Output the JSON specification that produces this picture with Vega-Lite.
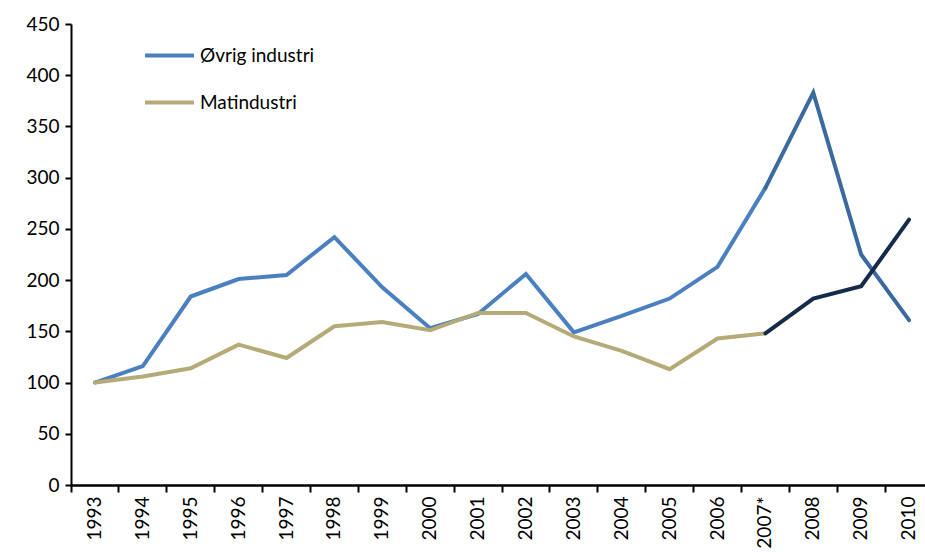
{
  "$schema": "https://vega.github.io/schema/vega-lite/v6.json",
  "autosize": "none",
  "width": 862,
  "height": 461,
  "padding": {"left": 71, "top": 24, "right": 0, "bottom": 75},
  "background": "white",
  "config": {
    "view": {"stroke": null},
    "font": "Lato",
    "axis": {"labelFont": "Lato", "labelColor": "#000000", "domainColor": "#000000", "tickColor": "#000000", "domainWidth": 2, "tickWidth": 2, "grid": false, "title": null}
  },
  "data": {
    "values": [
      {"year": "1993", "series": "Øvrig industri", "part": "pre", "value": 100},
      {"year": "1994", "series": "Øvrig industri", "part": "pre", "value": 116},
      {"year": "1995", "series": "Øvrig industri", "part": "pre", "value": 184},
      {"year": "1996", "series": "Øvrig industri", "part": "pre", "value": 201},
      {"year": "1997", "series": "Øvrig industri", "part": "pre", "value": 205},
      {"year": "1998", "series": "Øvrig industri", "part": "pre", "value": 242},
      {"year": "1999", "series": "Øvrig industri", "part": "pre", "value": 193},
      {"year": "2000", "series": "Øvrig industri", "part": "pre", "value": 153},
      {"year": "2001", "series": "Øvrig industri", "part": "pre", "value": 167},
      {"year": "2002", "series": "Øvrig industri", "part": "pre", "value": 206},
      {"year": "2003", "series": "Øvrig industri", "part": "pre", "value": 149},
      {"year": "2004", "series": "Øvrig industri", "part": "pre", "value": 165},
      {"year": "2005", "series": "Øvrig industri", "part": "pre", "value": 182},
      {"year": "2006", "series": "Øvrig industri", "part": "pre", "value": 213},
      {"year": "2007*", "series": "Øvrig industri", "part": "pre", "value": 290},
      {"year": "2007*", "series": "Øvrig industri", "part": "post", "value": 290},
      {"year": "2008", "series": "Øvrig industri", "part": "post", "value": 383},
      {"year": "2009", "series": "Øvrig industri", "part": "post", "value": 225},
      {"year": "2010", "series": "Øvrig industri", "part": "post", "value": 161},
      {"year": "1993", "series": "Matindustri", "part": "pre", "value": 100},
      {"year": "1994", "series": "Matindustri", "part": "pre", "value": 106},
      {"year": "1995", "series": "Matindustri", "part": "pre", "value": 114},
      {"year": "1996", "series": "Matindustri", "part": "pre", "value": 137},
      {"year": "1997", "series": "Matindustri", "part": "pre", "value": 124},
      {"year": "1998", "series": "Matindustri", "part": "pre", "value": 155},
      {"year": "1999", "series": "Matindustri", "part": "pre", "value": 159},
      {"year": "2000", "series": "Matindustri", "part": "pre", "value": 151},
      {"year": "2001", "series": "Matindustri", "part": "pre", "value": 168},
      {"year": "2002", "series": "Matindustri", "part": "pre", "value": 168},
      {"year": "2003", "series": "Matindustri", "part": "pre", "value": 145},
      {"year": "2004", "series": "Matindustri", "part": "pre", "value": 131},
      {"year": "2005", "series": "Matindustri", "part": "pre", "value": 113},
      {"year": "2006", "series": "Matindustri", "part": "pre", "value": 143},
      {"year": "2007*", "series": "Matindustri", "part": "pre", "value": 148},
      {"year": "2007*", "series": "Matindustri", "part": "post", "value": 148},
      {"year": "2008", "series": "Matindustri", "part": "post", "value": 182},
      {"year": "2009", "series": "Matindustri", "part": "post", "value": 194},
      {"year": "2010", "series": "Matindustri", "part": "post", "value": 259}
    ]
  },
  "encoding": {
    "x": {
      "field": "year", "type": "ordinal",
      "sort": ["1993","1994","1995","1996","1997","1998","1999","2000","2001","2002","2003","2004","2005","2006","2007*","2008","2009","2010"],
      "scale": {"type": "band", "paddingInner": 0, "paddingOuter": 0},
      "axis": {"labelAngle": -90, "labelAlign": "right", "labelBaseline": "middle", "labelFontSize": 19, "bandPosition": 0, "tickSize": 7, "labelPadding": 4, "domainWidth": 2.5}
    },
    "y": {
      "field": "value", "type": "quantitative",
      "scale": {"domain": [0, 450], "nice": false},
      "axis": {"values": [0,50,100,150,200,250,300,350,400,450], "labelFontSize": 19, "tickSize": 6, "labelPadding": 6}
    }
  },
  "layer": [
    {
      "transform": [{"filter": "datum.part === 'pre'"}],
      "mark": {"type": "line", "strokeWidth": 4, "strokeCap": "round"},
      "encoding": {
        "color": {
          "field": "series", "type": "nominal",
          "scale": {"domain": ["Øvrig industri", "Matindustri"], "range": ["#4a80c0", "#b5aa78"]},
          "legend": {
            "orient": "none", "legendX": 72, "legendY": 5, "title": null,
            "symbolType": "stroke", "symbolSize": 2400, "symbolStrokeWidth": 4,
            "labelFontSize": 19, "labelFont": "Lato", "labelColor": "#000000",
            "rowPadding": 10, "labelOffset": 4
          }
        }
      }
    },
    {
      "transform": [{"filter": "datum.part === 'post'"}],
      "mark": {"type": "line", "strokeWidth": 4, "strokeCap": "round"},
      "encoding": {
        "color": {
          "field": "series", "type": "nominal",
          "scale": {"domain": ["Øvrig industri", "Matindustri"], "range": ["#3a6aa0", "#142b4a"]},
          "legend": null
        }
      }
    }
  ],
  "resolve": {"scale": {"color": "independent"}}
}
